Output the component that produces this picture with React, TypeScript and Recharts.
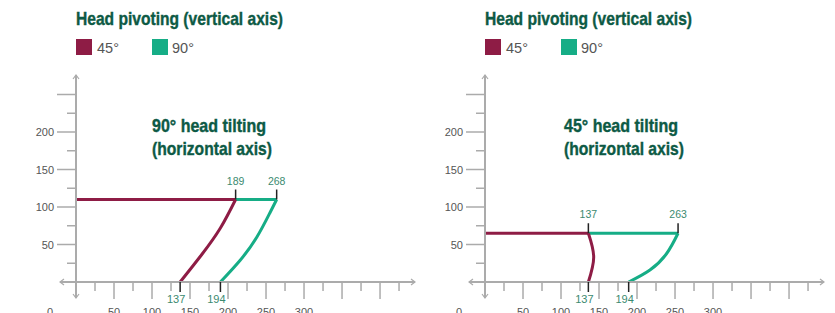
import React from 'react';
import { ComposedChart, Line, Scatter, XAxis, YAxis } from 'recharts';

// axis ranges (data units)
const X_MAX = 446;
const Y_MAX = 276;
const xTicks = [0, 25, 50, 75, 100, 125, 150, 175, 200, 225, 250, 275, 300, 325, 350, 375, 400, 425, X_MAX];
const yTicks = [0, 25, 50, 75, 100, 125, 150, 175, 200, 225, 250, Y_MAX];
const xLabels = [0, 50, 100, 150, 200, 250, 300];
const yLabels = [50, 100, 150, 200];

// 90° head tilting panel
const tilt90Flat45 = [{ x: 0, y: 110 }, { x: 210, y: 110 }];
const tilt90Flat90 = [{ x: 210, y: 110 }, { x: 264, y: 110 }];
const tilt90Curve45 = [{ x: 137, y: 0 }, { x: 165, y: 36 }, { x: 190, y: 72 }, { x: 210, y: 110 }];
const tilt90Curve90 = [{ x: 190, y: 0 }, { x: 216, y: 29 }, { x: 238, y: 60 }, { x: 255, y: 92 }, { x: 264, y: 110 }];
const tilt90Marks = [
    { x: 210, y: 110, label: '189', pos: 'top' },
    { x: 264, y: 110, label: '268', pos: 'top' },
    { x: 137, y: 0, label: '137', pos: 'bottom' },
    { x: 190, y: 0, label: '194', pos: 'bottom' },
];

// 45° head tilting panel
const tilt45Flat45 = [{ x: 0, y: 65 }, { x: 136, y: 65 }];
const tilt45Flat90 = [{ x: 136, y: 65 }, { x: 254, y: 65 }];
const tilt45Curve45 = [{ x: 136, y: 0 }, { x: 143, y: 33 }, { x: 136, y: 65 }];
const tilt45Curve90 = [{ x: 189, y: 0 }, { x: 217, y: 16 }, { x: 239, y: 38 }, { x: 254, y: 65 }];
const tilt45Marks = [
    { x: 136, y: 65, label: '137', pos: 'top' },
    { x: 254, y: 65, label: '263', pos: 'top' },
    { x: 136, y: 0, label: '137', pos: 'bottom' },
    { x: 189, y: 0, label: '194', pos: 'bottom' },
];

const MAROON = '#8e1c45';
const GREEN = '#16ad86';
const TITLE = '#0d5a45';
const AXIS = '#ababab';
const MARK_LABEL = '#3b8a70';
const FONT = '"Liberation Sans", Arial, sans-serif';

const XTick = (props: any) => {
    const { x, y, payload } = props;
    const v = payload.value;
    if (v === X_MAX) {
        return <path d={`M${x - 4},${y - 3} L${x},${y} L${x - 4},${y + 3}`} stroke={AXIS} strokeWidth={1.2} fill="none" />;
    }
    if (v === 0) {
        // y axis runs past the origin with a down arrow
        return (
            <g>
                <line x1={x} x2={x} y1={y} y2={y + 16} stroke={AXIS} strokeWidth={2} />
                <path d={`M${x - 3},${y + 12} L${x},${y + 16} L${x + 3},${y + 12}`} stroke={AXIS} strokeWidth={1.2} fill="none" />
                <text x={x - 26} y={y + 34} textAnchor="middle" fontSize={11} fill="#555" fontFamily={FONT}>0</text>
            </g>
        );
    }
    const long = v % 50 === 0;
    return (
        <g>
            <line x1={x} x2={x} y1={y} y2={y + (long ? 17 : 9)} stroke={AXIS} strokeWidth={1.5} />
            {xLabels.includes(v) && (
                <text x={x} y={y + 34} textAnchor="middle" fontSize={11} fill="#555" fontFamily={FONT}>{v}</text>
            )}
        </g>
    );
};

const YTick = (props: any) => {
    const { x, y, payload } = props;
    const v = payload.value;
    if (v === Y_MAX) {
        return <path d={`M${x - 3},${y + 4} L${x},${y} L${x + 3},${y + 4}`} stroke={AXIS} strokeWidth={1.2} fill="none" />;
    }
    if (v === 0) {
        // x axis runs left of the origin with an arrow
        return (
            <g>
                <line x1={x - 16} x2={x} y1={y} y2={y} stroke={AXIS} strokeWidth={2} />
                <path d={`M${x - 12},${y - 3} L${x - 16},${y} L${x - 12},${y + 3}`} stroke={AXIS} strokeWidth={1.2} fill="none" />
            </g>
        );
    }
    const long = v % 50 === 0;
    return (
        <g>
            <line x1={x - (long ? 19 : 9)} x2={x} y1={y} y2={y} stroke={AXIS} strokeWidth={1.5} />
            {yLabels.includes(v) && (
                <text x={x - 22} y={y + 4} textAnchor="end" fontSize={11} fill="#555" fontFamily={FONT}>{v}</text>
            )}
        </g>
    );
};

const Marker = (props: any) => {
    const { cx, cy } = props;
    const p = props.payload ?? props;
    if (p.pos === 'top') {
        return (
            <g>
                <line x1={cx} x2={cx} y1={cy - 10} y2={cy} stroke="#222" strokeWidth={1.5} />
                <text x={cx} y={cy - 15} textAnchor="middle" fontSize={10.5} fill={MARK_LABEL} fontFamily={FONT}>{p.label}</text>
            </g>
        );
    }
    return (
        <g>
            <line x1={cx} x2={cx} y1={cy} y2={cy + 10} stroke="#222" strokeWidth={1.5} />
            <text x={cx - 4} y={cy + 21} textAnchor="middle" fontSize={11} fill={MARK_LABEL} fontFamily={FONT}>{p.label}</text>
        </g>
    );
};

interface PanelProps {
    left: number;
    flat45: { x: number; y: number }[];
    flat90: { x: number; y: number }[];
    curve45: { x: number; y: number }[];
    curve90: { x: number; y: number }[];
    marks: { x: number; y: number; label: string; pos: string }[];
}

const Panel: React.FC<PanelProps> = ({ left, flat45, flat90, curve45, curve90, marks }) => (
    <div style={{ position: 'absolute', left, top: 0 }}>
        <ComposedChart width={420} height={313} margin={{ top: 75, right: 5, bottom: 0, left: 0 }}>
            <XAxis
                type="number"
                dataKey="x"
                domain={[0, X_MAX]}
                ticks={xTicks}
                interval={0}
                height={31}
                tickSize={0}
                tickMargin={0}
                tickLine={false}
                tick={(p: any) => <XTick {...p} />}
                axisLine={{ stroke: AXIS, strokeWidth: 2 }}
            />
            <YAxis
                type="number"
                domain={[0, Y_MAX]}
                ticks={yTicks}
                interval={0}
                width={76}
                tickSize={0}
                tickMargin={0}
                tickLine={false}
                tick={(p: any) => <YTick {...p} />}
                axisLine={{ stroke: AXIS, strokeWidth: 2 }}
            />
            <Line data={flat45} dataKey="y" type="linear" stroke={MAROON} strokeWidth={3} dot={false} activeDot={false} isAnimationActive={false} />
            <Line data={flat90} dataKey="y" type="linear" stroke={GREEN} strokeWidth={3} dot={false} activeDot={false} isAnimationActive={false} />
            <Line data={curve45} dataKey="y" type="natural" stroke={MAROON} strokeWidth={3} dot={false} activeDot={false} isAnimationActive={false} />
            <Line data={curve90} dataKey="y" type="natural" stroke={GREEN} strokeWidth={3} dot={false} activeDot={false} isAnimationActive={false} />
            <Scatter data={marks} dataKey="y" shape={Marker} isAnimationActive={false} />
        </ComposedChart>
    </div>
);

const Headings: React.FC<{ ox: number; tx: number; tilt: string }> = ({ ox, tx, tilt }) => (
    <g fontFamily={FONT}>
        <text x={ox} y={25} fontSize={19} fontWeight="bold" fill={TITLE} stroke={TITLE} strokeWidth={0.4} textLength={207} lengthAdjust="spacingAndGlyphs">
            Head pivoting (vertical axis)
        </text>
        <rect x={ox} y={39} width={16} height={16} fill={MAROON} />
        <text x={ox + 21} y={53} fontSize={14.5} fill="#555">45°</text>
        <rect x={ox + 76} y={39} width={16} height={16} fill={GREEN} />
        <text x={ox + 96} y={53} fontSize={14.5} fill="#555">90°</text>
        <text x={tx} y={132} fontSize={18.5} fontWeight="bold" fill={TITLE} stroke={TITLE} strokeWidth={0.4} textLength={114} lengthAdjust="spacingAndGlyphs">
            {tilt} head tilting
        </text>
        <text x={tx} y={155} fontSize={18.5} fontWeight="bold" fill={TITLE} stroke={TITLE} strokeWidth={0.4} textLength={120} lengthAdjust="spacingAndGlyphs">
            (horizontal axis)
        </text>
    </g>
);

export default function App() {
    return (
        <div style={{ position: 'absolute', left: 0, top: 0, width: 835, height: 313, overflow: 'hidden', background: '#fff' }}>
            <Panel left={0} flat45={tilt90Flat45} flat90={tilt90Flat90} curve45={tilt90Curve45} curve90={tilt90Curve90} marks={tilt90Marks} />
            <Panel left={409} flat45={tilt45Flat45} flat90={tilt45Flat90} curve45={tilt45Curve45} curve90={tilt45Curve90} marks={tilt45Marks} />
            <svg width={835} height={313} style={{ position: 'absolute', left: 0, top: 0, pointerEvents: 'none' }}>
                <Headings ox={76} tx={152} tilt="90°" />
                <Headings ox={485} tx={564} tilt="45°" />
            </svg>
        </div>
    );
}
